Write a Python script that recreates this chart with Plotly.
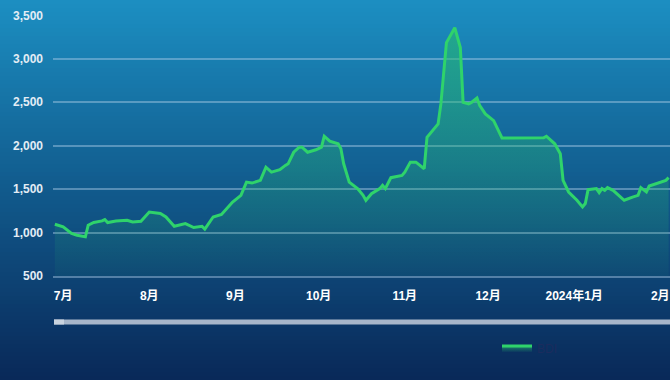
import plotly.graph_objects as go

dates = [
    "2023-06-28", "2023-07-01", "2023-07-04", "2023-07-06", "2023-07-09", "2023-07-10",
    "2023-07-12", "2023-07-15", "2023-07-16", "2023-07-17", "2023-07-20", "2023-07-24",
    "2023-07-26", "2023-07-29", "2023-08-01", "2023-08-05", "2023-08-07", "2023-08-10",
    "2023-08-14", "2023-08-17", "2023-08-20", "2023-08-21", "2023-08-24", "2023-08-27",
    "2023-08-31", "2023-09-03", "2023-09-05", "2023-09-07", "2023-09-10", "2023-09-12",
    "2023-09-14", "2023-09-17", "2023-09-19", "2023-09-20", "2023-09-22", "2023-09-24",
    "2023-09-25", "2023-09-27", "2023-09-30", "2023-10-02", "2023-10-03", "2023-10-05",
    "2023-10-08", "2023-10-09", "2023-10-10", "2023-10-12", "2023-10-15", "2023-10-17",
    "2023-10-18", "2023-10-20", "2023-10-23", "2023-10-24", "2023-10-25", "2023-10-27",
    "2023-10-31", "2023-11-01", "2023-11-03", "2023-11-05", "2023-11-08", "2023-11-09",
    "2023-11-13", "2023-11-14", "2023-11-16", "2023-11-19", "2023-11-21", "2023-11-22",
    "2023-11-24", "2023-11-25", "2023-11-27", "2023-11-28", "2023-11-30", "2023-12-03",
    "2023-12-06", "2023-12-21", "2023-12-22", "2023-12-25", "2023-12-27", "2023-12-28",
    "2023-12-30", "2024-01-02", "2024-01-04", "2024-01-05", "2024-01-06", "2024-01-09",
    "2024-01-10", "2024-01-11", "2024-01-12", "2024-01-13", "2024-01-15", "2024-01-17",
    "2024-01-19", "2024-01-22", "2024-01-24", "2024-01-25", "2024-01-27", "2024-01-28",
    "2024-01-31", "2024-02-01", "2024-02-03", "2024-02-04",
]
bdi = [
    1096, 1065, 990, 970, 951, 1085,
    1116, 1134, 1150, 1116, 1134, 1142,
    1123, 1131, 1237, 1219, 1180, 1073,
    1104, 1058, 1073, 1039, 1180, 1208,
    1352, 1429, 1581, 1570, 1601, 1753,
    1696, 1724, 1773, 1792, 1925, 1983,
    1983, 1925, 1953, 1983, 2109, 2052,
    2022, 1964, 1792, 1581, 1506, 1429,
    1372, 1448, 1506, 1544, 1506, 1632,
    1658, 1696, 1811, 1811, 1735, 2097,
    2251, 2481, 3187, 3359, 3130, 2499,
    2481, 2499, 2549, 2461, 2366, 2289,
    2090, 2091, 2109, 2022, 1907, 1601,
    1467, 1372, 1295, 1334, 1494, 1506,
    1460, 1506, 1486, 1517, 1486, 1429,
    1372, 1409, 1429, 1517, 1467, 1536,
    1570, 1581, 1601, 1632,
]
month_ticks = ["2023-07-01", "2023-08-01", "2023-09-01", "2023-10-01", "2023-11-01",
               "2023-12-01", "2024-01-01", "2024-02-01"]
month_labels = ["7月", "8月", "9月", "10月", "11月", "12月", "2024年1月", "2月"]
y_ticks = [500, 1000, 1500, 2000, 2500, 3000, 3500]
series_name = "BDI"

W, H = 670, 380
ML, MR, MT, MB = 53, 0, 15, 104
PW, PH = W - ML - MR, H - MT - MB


def px_to_paper_y(py):
    return (H - MB - py) / PH


def px_to_paper_x(px):
    return (px - ML) / PW


# background gradient bands
stops = [(0, (28, 143, 194)), (190, (17, 90, 140)), (380, (9, 40, 88))]


def color_at(py):
    for (y0, c0), (y1, c1) in zip(stops[:-1], stops[1:]):
        if y0 <= py <= y1:
            t = (py - y0) / (y1 - y0)
            return tuple(round(a + (b - a) * t) for a, b in zip(c0, c1))
    return stops[-1][1]


shapes = []
band = 4
for py in range(0, H, band):
    c = color_at(py + band / 2)
    shapes.append(dict(
        type="rect", xref="paper", yref="paper", layer="below",
        x0=px_to_paper_x(0), x1=px_to_paper_x(W),
        y0=px_to_paper_y(py + band + 0.5), y1=px_to_paper_y(py),
        fillcolor="rgb(%d,%d,%d)" % c, line=dict(width=0),
    ))

# slider bar
shapes.append(dict(
    type="rect", xref="paper", yref="paper", layer="above",
    x0=px_to_paper_x(54), x1=px_to_paper_x(W),
    y0=px_to_paper_y(324.5), y1=px_to_paper_y(319.5),
    fillcolor="#a7b6ca", line=dict(width=0),
))
shapes.append(dict(
    type="rect", xref="paper", yref="paper", layer="above",
    x0=px_to_paper_x(54), x1=px_to_paper_x(64),
    y0=px_to_paper_y(324.5), y1=px_to_paper_y(319.5),
    fillcolor="#c9d3df", line=dict(width=0),
))

fig = go.Figure()
fig.add_trace(go.Scatter(
    x=dates, y=bdi, name=series_name, mode="lines",
    line=dict(color="#2fd36b", width=3),
    fill="tozeroy",
    fillgradient=dict(
        type="vertical",
        colorscale=[[0, "rgba(40,190,110,0.05)"], [1, "rgba(40,190,110,0.6)"]],
        start=500, stop=3400,
    ),
))

grid_color = "rgba(170,205,230,0.45)"
fig.update_layout(
    width=W, height=H,
    margin=dict(l=ML, r=MR, t=MT, b=MB),
    paper_bgcolor="rgba(0,0,0,0)",
    plot_bgcolor="rgba(0,0,0,0)",
    shapes=shapes,
    font=dict(family="Liberation Sans, Noto Sans CJK SC, sans-serif"),
    showlegend=True,
    legend=dict(
        orientation="h", x=px_to_paper_x(497), y=px_to_paper_y(348),
        xanchor="left", yanchor="middle",
        font=dict(color="#1b2c5e", size=12),
        bgcolor="rgba(0,0,0,0)",
    ),
    xaxis=dict(
        type="date",
        range=["2023-06-27 08:00", "2024-02-04 12:00"],
        tickvals=month_ticks, ticktext=month_labels,
        showgrid=False, zeroline=False,
        showline=True, linecolor=grid_color, linewidth=1.5,
        ticks="", ticklabelstandoff=8,
        tickfont=dict(color="#ffffff", size=12, weight="bold"),
    ),
    yaxis=dict(
        range=[500, 3505],
        tickvals=y_ticks, tickformat=",",
        showgrid=True, gridcolor=grid_color, gridwidth=1.5,
        zeroline=False, ticks="", ticklabelstandoff=9,
        tickfont=dict(color="#e3edf5", size=12, weight="bold"),
    ),
)

fig.write_html(
    "out.html",
    config={"displayModeBar": False},
    post_script="document.body.style.margin='0';document.body.style.overflow='hidden';",
)
